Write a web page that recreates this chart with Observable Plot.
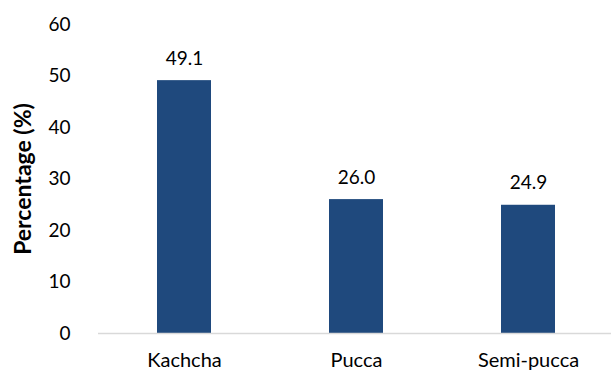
<!DOCTYPE html>
<html>
<head>
<meta charset="utf-8">
<script src="https://cdn.jsdelivr.net/npm/d3@7"></script>
<script src="https://cdn.jsdelivr.net/npm/@observablehq/plot@0.6"></script>
<style>
  html, body { margin: 0; padding: 0; background: #fff; }
  #chart svg { display: block; }
</style>
</head>
<body>
<div id="chart"></div>
<script>
const categories = ["Kachcha", "Pucca", "Semi-pucca"];
const values = [49.1, 26.0, 24.9];
const yTicks = [0, 10, 20, 30, 40, 50, 60];
const yLabel = "Percentage (%)";

const data = categories.map((c, i) => ({category: c, value: values[i]}));

const chart = Plot.plot({
  width: 611,
  height: 374,
  marginLeft: 98,
  marginRight: 0,
  marginTop: 24,
  marginBottom: 41,
  style: {fontFamily: "Lato, 'Open Sans', sans-serif", fontSize: "19px", color: "#000", background: "#fff"},
  x: {domain: categories, range: [98, 614], paddingInner: 0.686, paddingOuter: 0.343, label: null},
  y: {domain: [0, 60], label: null},
  marks: [
    Plot.barY(data, {x: "category", y: "value", fill: "#1f497d"}),
    Plot.ruleY([0], {stroke: "#d9d9d9", strokeWidth: 1.5}),
    Plot.axisY({ticks: yTicks, tickSize: 0, tickPadding: 28, label: null, fontSize: 19}),
    Plot.axisX({tickSize: 0, tickPadding: 19, label: null, fontSize: 20}),
    Plot.text(data, {x: "category", y: "value", text: d => d.value.toFixed(1), dy: -22, fontSize: 19, fill: "#000"}),
    Plot.text([yLabel], {text: d => d, frameAnchor: "left", textAnchor: "middle", dx: -75, rotate: -90, fontWeight: "bold", fontSize: 23, fill: "#000"})
  ]
});
document.getElementById("chart").appendChild(chart);
</script>
</body>
</html>
